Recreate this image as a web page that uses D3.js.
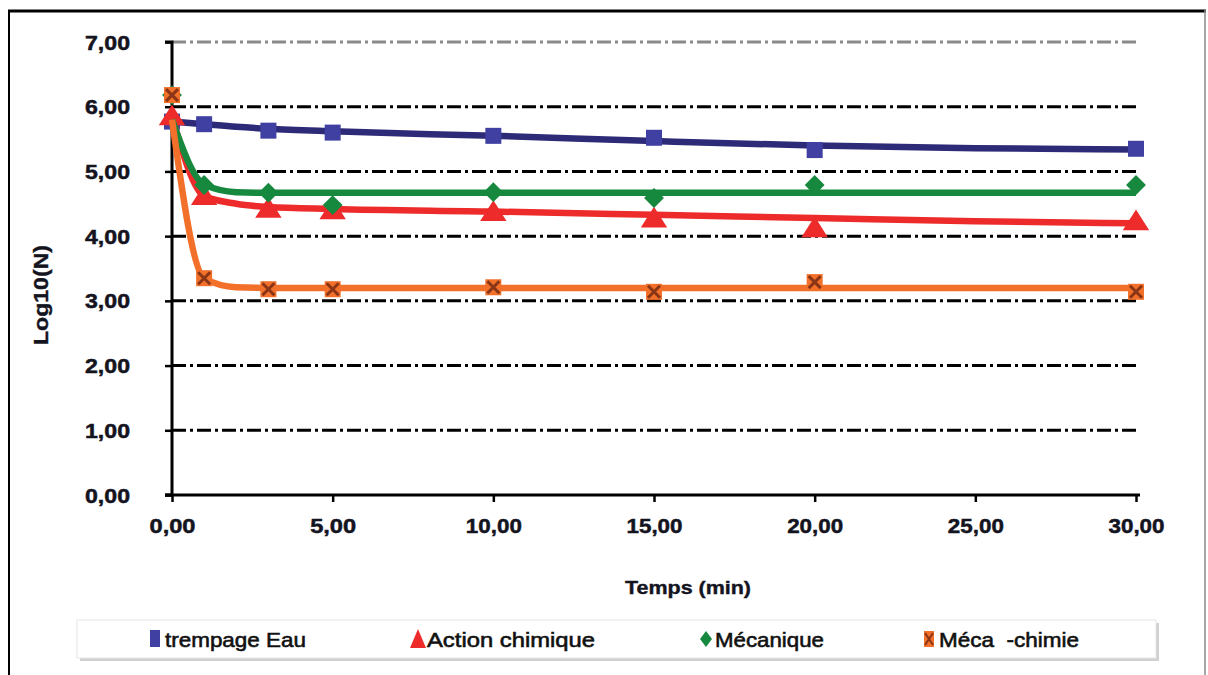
<!DOCTYPE html>
<html><head><meta charset="utf-8">
<script src="https://cdn.jsdelivr.net/npm/d3@7"></script>
<style>html,body{margin:0;padding:0;background:#fff;}svg{display:block;}</style>
</head><body>
<script>
// ---- data ----
const sampleTimes = [0, 1, 3, 5, 10, 15, 20, 30];
const fitTimes = [0, 1, 2, 3, 5, 10, 15, 20, 25, 30];
const eauValues = [5.77, 5.73, 5.63, 5.60, 5.55, 5.52, 5.33, 5.35];
const chimiqueValues = [5.85, 4.62, 4.42, 4.40, 4.37, 4.27, 4.12, 4.23];
const mecaniqueValues = [6.18, 4.79, 4.67, 4.48, 4.68, 4.59, 4.79, 4.79];
const mecaChimieValues = [6.18, 3.35, 3.18, 3.18, 3.21, 3.14, 3.29, 3.14];
const eauFit = [5.77, 5.73, 5.69, 5.66, 5.62, 5.55, 5.47, 5.40, 5.36, 5.34];
const chimiqueFit = [5.85, 4.62, 4.50, 4.45, 4.42, 4.38, 4.33, 4.28, 4.23, 4.20];
const mecaniqueFit = [5.80, 4.80, 4.68, 4.67, 4.67, 4.67, 4.67, 4.67, 4.67, 4.67];
const mecaChimieFit = [5.80, 3.35, 3.21, 3.20, 3.20, 3.20, 3.20, 3.20, 3.20, 3.20];
const seriesNames = ["trempage Eau", "Action chimique", "Mécanique", "Méca  -chimie"];
const yTicks = [0, 1, 2, 3, 4, 5, 6, 7];
const xTicks = [0, 5, 10, 15, 20, 25, 30];
const xTitle = "Temps (min)";
const yTitle = "Log10(N)";

const W = 1208, H = 675;
const svg = d3.select("body").append("svg").attr("width", W).attr("height", H);

// outer frame
svg.append("line").attr("x1", 8).attr("x2", 1206).attr("y1", 11).attr("y2", 11).attr("stroke", "#000").attr("stroke-width", 3);
svg.append("line").attr("x1", 9).attr("x2", 9).attr("y1", 10).attr("y2", 675).attr("stroke", "#000").attr("stroke-width", 2);
svg.append("line").attr("x1", 1205).attr("x2", 1205).attr("y1", 10).attr("y2", 675).attr("stroke", "#888").attr("stroke-width", 1.5);

const x = d3.scaleLinear().domain([0, 30]).range([172, 1136]);
const y = d3.scaleLinear().domain([0, 7]).range([495, 42]);
const fmt = d => d3.format(".2f")(d).replace(".", ",");
const fontB = "'Liberation Sans', Arial, sans-serif";
const txtCol = "#14141f";

// gridlines
svg.append("g").selectAll("line").data(yTicks.filter(d => d > 0)).join("line")
  .attr("x1", 172).attr("x2", 1140)
  .attr("y1", d => y(d)).attr("y2", d => y(d))
  .attr("stroke", d => d === 7 ? "#8a8a8a" : "#000")
  .attr("stroke-width", 3)
  .attr("stroke-dasharray", "14,4,3,4");

// axes
const yAxis = svg.append("g").attr("transform", "translate(172,0)")
  .call(d3.axisLeft(y).tickValues(yTicks).tickSize(7).tickFormat(fmt));
const xAxis = svg.append("g").attr("transform", "translate(0,495)")
  .call(d3.axisBottom(x).tickValues(xTicks).tickSize(7).tickFormat(fmt));
[yAxis, xAxis].forEach(g => {
  g.select(".domain").attr("stroke", "#000").attr("stroke-width", 3);
  g.selectAll(".tick line").attr("stroke", "#000").attr("stroke-width", 2.5);
  g.selectAll("text").attr("font-family", fontB).attr("font-weight", "bold")
    .attr("font-size", 20).attr("fill", txtCol)
    .attr("stroke", txtCol).attr("stroke-width", 0.5)
    .attr("textLength", 45).attr("lengthAdjust", "spacingAndGlyphs");
});
yAxis.select(".domain").attr("d", `M-7,${y(7)}H0V${y(0)}H-7`);
xAxis.select(".domain").attr("d", `M${x(0) - 7},0H${x(30) + 4}`);
yAxis.selectAll("text").attr("x", -42).attr("dy", "0.35em");
xAxis.selectAll("text").attr("y", 24).attr("textLength", 46);
xAxis.selectAll(".tick").filter(d => d >= 10).select("text").attr("textLength", 56);

// titles
svg.append("text").attr("x", 688).attr("y", 594).attr("text-anchor", "middle")
  .attr("font-family", fontB).attr("font-weight", "bold").attr("font-size", 19)
  .attr("stroke", txtCol).attr("stroke-width", 0.4)
  .attr("textLength", 126).attr("lengthAdjust", "spacingAndGlyphs").attr("fill", txtCol).text(xTitle);
svg.append("text").attr("transform", "translate(48,295) rotate(-90)").attr("text-anchor", "middle")
  .attr("font-family", fontB).attr("font-weight", "bold").attr("font-size", 21)
  .attr("stroke", txtCol).attr("stroke-width", 0.4)
  .attr("textLength", 100).attr("lengthAdjust", "spacingAndGlyphs")
  .attr("fill", txtCol).text(yTitle);

// series
const series = [
  {name: seriesNames[0], vals: eauValues, fit: eauFit, line: "#2d2a78", fill: "#4040a2", shape: "square"},
  {name: seriesNames[1], vals: chimiqueValues, fit: chimiqueFit, line: "#ee2b2b", fill: "#ee2b2b", shape: "triangle"},
  {name: seriesNames[2], vals: mecaniqueValues, fit: mecaniqueFit, line: "#17893f", fill: "#17893f", shape: "diamond"},
  {name: seriesNames[3], vals: mecaChimieValues, fit: mecaChimieFit, line: "#f2702a", fill: "#f2702a", shape: "xsquare"}
];

const lineGen = d3.line().x(d => x(d[0])).y(d => y(d[1])).curve(d3.curveMonotoneX);

function drawMarker(g, shape, cx, cy, s, col) {
  if (shape === "square") {
    g.append("rect").attr("x", cx - s / 2).attr("y", cy - s / 2).attr("width", s).attr("height", s).attr("fill", col);
  } else if (shape === "triangle") {
    const h = s * 0.9;
    g.append("path").attr("d", `M${cx},${cy - h * 0.6}L${cx + s * 0.6},${cy + h * 0.45}L${cx - s * 0.6},${cy + h * 0.45}Z`).attr("fill", col);
  } else if (shape === "diamond") {
    const r = s * 0.62;
    g.append("path").attr("d", `M${cx},${cy - r}L${cx + r},${cy}L${cx},${cy + r}L${cx - r},${cy}Z`).attr("fill", col);
  } else {
    g.append("rect").attr("x", cx - s / 2).attr("y", cy - s / 2).attr("width", s).attr("height", s).attr("fill", col);
    g.append("path").attr("d", `M${cx - s / 2 + 2},${cy - s / 2 + 2}L${cx + s / 2 - 2},${cy + s / 2 - 2}M${cx + s / 2 - 2},${cy - s / 2 + 2}L${cx - s / 2 + 2},${cy + s / 2 - 2}`)
      .attr("stroke", "#8a3515").attr("stroke-width", 3);
  }
}

series.forEach(s => {
  const g = svg.append("g");
  g.append("path").datum(fitTimes.map((t, i) => [t, s.fit[i]]))
    .attr("d", lineGen).attr("fill", "none").attr("stroke", s.line).attr("stroke-width", 6.5)
    .attr("stroke-linejoin", "round");
  sampleTimes.forEach((t, i) => drawMarker(g, s.shape, x(t), y(s.vals[i]), s.shape === "triangle" ? 22 : 16, s.fill));
});

// legend
const lg = svg.append("g");
lg.append("rect").attr("x", 80).attr("y", 623).attr("width", 1079).attr("height", 38).attr("fill", "#d0d0d0");
lg.append("rect").attr("x", 77).attr("y", 620).attr("width", 1079).attr("height", 38).attr("fill", "#fff").attr("stroke", "#e6e6e6");
const legendX = [150, 410, 700, 924];
const legendW = [141, 168, 109, 140];
series.forEach((s, i) => {
  const lx = legendX[i], ly = 639;
  if (s.shape === "square") lg.append("rect").attr("x", lx).attr("y", ly - 9).attr("width", 10).attr("height", 17).attr("fill", s.fill);
  else if (s.shape === "triangle") lg.append("path").attr("d", `M${lx + 8},${ly - 10}L${lx + 16},${ly + 9}L${lx},${ly + 9}Z`).attr("fill", s.fill);
  else if (s.shape === "diamond") lg.append("path").attr("d", `M${lx + 6},${ly - 8}L${lx + 12},${ly}L${lx + 6},${ly + 8}L${lx},${ly}Z`).attr("fill", s.fill);
  else {
    lg.append("rect").attr("x", lx).attr("y", ly - 8).attr("width", 10).attr("height", 16).attr("fill", s.fill);
    lg.append("path").attr("d", `M${lx + 1},${ly - 6}L${lx + 9},${ly + 6}M${lx + 9},${ly - 6}L${lx + 1},${ly + 6}`).attr("stroke", "#8a3515").attr("stroke-width", 2);
  }
  const tx = lx + (s.shape === "triangle" ? 17 : 15);
  lg.append("text").attr("x", tx).attr("y", ly + 8)
    .attr("font-family", "'Liberation Sans Narrow', 'Arial Narrow', 'Liberation Sans', Arial, sans-serif")
    .attr("font-size", 21).attr("fill", "#111").attr("stroke", "#111").attr("stroke-width", 0.6)
    .style("white-space", "pre")
    .attr("textLength", legendW[i]).attr("lengthAdjust", "spacingAndGlyphs")
    .text(s.name);
});
</script>
</body></html>
